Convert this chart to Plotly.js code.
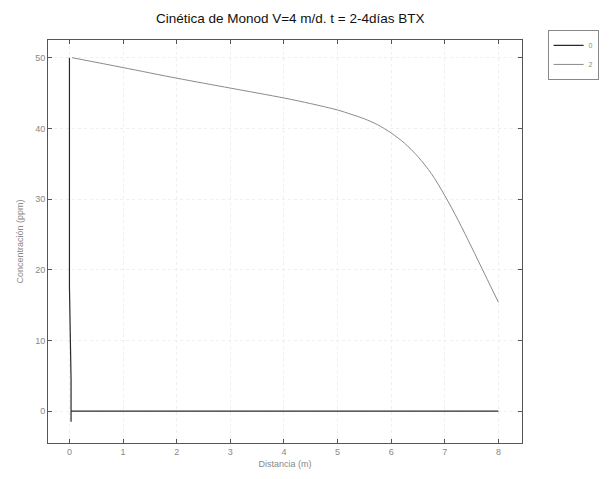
<!DOCTYPE html>
<html>
<head>
<meta charset="utf-8">
<script src="https://cdn.plot.ly/plotly-3.0.1.min.js"></script>
<style>html,body{margin:0;padding:0;background:#fff;}#chart{width:611px;height:479px;}</style>
</head>
<body>
<div id="chart"></div>
<script>
// Series "0" (t = 0): spike at the origin with numerical oscillation, then zero
var dist0 = [0, 0, 0, 0, 0, 0, 0, 0.03, 0.03, 0.03, 0.03, 0.1, 1, 2, 3, 4, 5, 6, 7, 8];
var conc0 = [50, 35, 39, 35, 17.6, 21.8, 17.6, 4.4, -1.5, 4.4, 0, 0, 0, 0, 0, 0, 0, 0, 0, 0];
// Series "2" (t = 2 días)
var dist2 = [0.05, 1, 2, 3, 4, 4.5, 5, 5.25, 5.5, 5.75, 6.0, 6.25, 6.5, 6.75, 7.0, 7.25, 7.5, 7.75, 8.0];
var conc2 = [50, 48.6, 47.1, 45.7, 44.3, 43.5, 42.6, 42.0, 41.35, 40.5, 39.35, 37.9, 36.0, 33.6, 30.5, 27.0, 23.2, 19.3, 15.4];
var seriesNames = ["0", "2"];
var xTicks = [0, 1, 2, 3, 4, 5, 6, 7, 8];
var yTicks = [0, 10, 20, 30, 40, 50];

var traces = [
  {x: dist0, y: conc0, name: seriesNames[0], type: 'scatter', mode: 'lines',
   line: {color: '#2a2a2a', width: 1.2}},
  {x: dist2, y: conc2, name: seriesNames[1], type: 'scatter', mode: 'lines',
   line: {color: '#8a8a8a', width: 1, shape: 'spline', smoothing: 0.8}}
];

var axisCommon = {
  showline: true, linecolor: '#555', linewidth: 1, mirror: 'ticks',
  ticks: 'inside', ticklen: 4, tickcolor: '#555',
  showgrid: true, gridcolor: '#efefef', griddash: 'dot', gridwidth: 1,
  zeroline: false,
  tickfont: {family: 'Liberation Sans, Arial, sans-serif', size: 9, color: '#888'}
};

var layout = {
  width: 611, height: 479,
  margin: {l: 48, r: 80, t: 40, b: 36},
  paper_bgcolor: '#fff', plot_bgcolor: '#fff',
  title: {text: 'Cinética de Monod V=4 m/d. t = 2-4días BTX',
          font: {family: 'Liberation Sans, Arial, sans-serif', size: 13.5, color: '#111'},
          x: 0.475, xanchor: 'center', y: 0.962, yanchor: 'middle'},
  xaxis: Object.assign({}, axisCommon, {
    range: [-0.4, 8.44], tickvals: xTicks, ticktext: xTicks.map(String),
    title: {text: 'Distancia (m)', standoff: 4,
            font: {family: 'Liberation Sans, Arial, sans-serif', size: 9, color: '#888'}}
  }),
  yaxis: Object.assign({}, axisCommon, {
    range: [-4.5, 52.5], tickvals: yTicks, ticktext: yTicks.map(String),
    title: {text: 'Concentración (ppm)', standoff: 10,
            font: {family: 'Liberation Sans, Arial, sans-serif', size: 9, color: '#888'}}
  }),
  showlegend: true,
  legend: {x: 1.054, y: 1.025, xanchor: 'left', yanchor: 'top',
           bordercolor: '#888', borderwidth: 1, bgcolor: '#fff',
           font: {family: 'Liberation Sans, Arial, sans-serif', size: 7, color: '#888'},
           tracegroupgap: 0, itemwidth: 30}
};

Plotly.newPlot('chart', traces, layout, {displayModeBar: false, staticPlot: true});
</script>
</body>
</html>
